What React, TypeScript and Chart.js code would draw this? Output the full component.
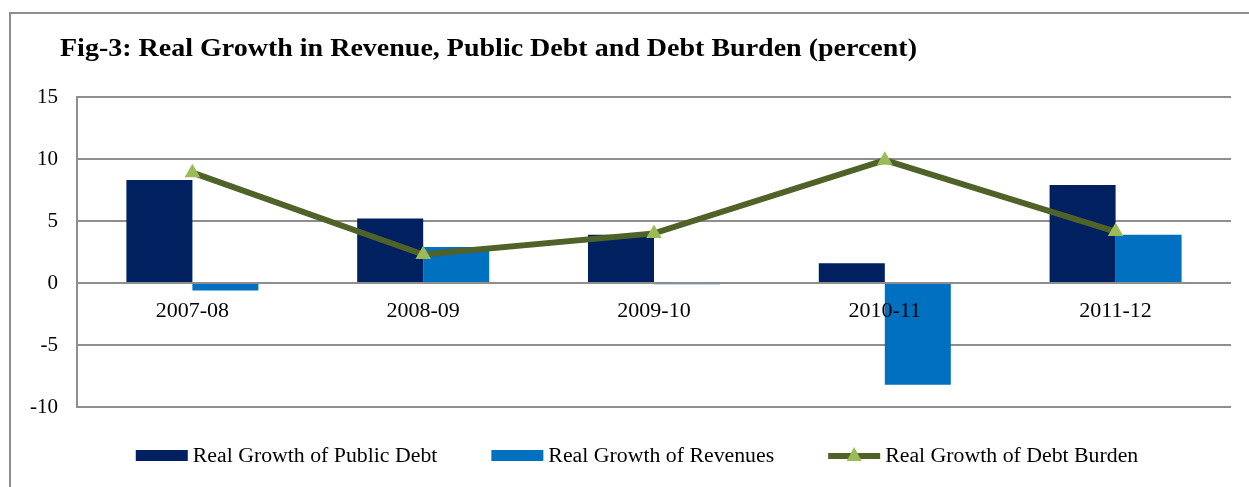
import React, { useEffect, useRef } from "react";
import { Chart, registerables } from "chart.js";

Chart.register(...registerables);

const TITLE = "Fig-3: Real Growth in Revenue, Public Debt and Debt Burden (percent)";
const categories = ["2007-08", "2008-09", "2009-10", "2010-11", "2011-12"];
const publicDebt = [8.3, 5.2, 3.9, 1.6, 7.9];
const revenues = [-0.6, 2.9, -0.1, -8.2, 3.9];
const debtBurden = [8.9, 2.3, 4.0, 9.9, 4.15];
const seriesLabels = [
  "Real Growth of Public Debt",
  "Real Growth of Revenues",
  "Real Growth of Debt Burden",
];

const NAVY = "#002060";
const BLUE = "#0070c0";
const OLIVE = "#4f6228";
const GREEN = "#9bbb59";
const GRID = "#8e8e8e";
const SERIF = "'Liberation Serif', serif";

function stretchedText(ctx: any, text: string, x: number, y: number, sx: number) {
  ctx.save();
  ctx.translate(x, y);
  ctx.scale(sx, 1);
  ctx.fillText(text, 0, 0);
  ctx.restore();
}

const framePlugin = {
  id: "frameTitle",
  beforeDraw(chart: any) {
    const ctx = chart.ctx;
    ctx.save();
    ctx.strokeStyle = GRID;
    ctx.lineWidth = 2;
    ctx.beginPath();
    ctx.moveTo(10, 487);
    ctx.lineTo(10, 13);
    ctx.lineTo(1249, 13);
    ctx.stroke();
    ctx.fillStyle = "#000";
    ctx.font = `bold 25px ${SERIF}`;
    ctx.textBaseline = "alphabetic";
    ctx.textAlign = "left";
    const w = ctx.measureText(TITLE).width;
    stretchedText(ctx, TITLE, 60, 56, 857 / w);
    ctx.restore();
  },
  afterDraw(chart: any) {
    const ctx = chart.ctx;
    ctx.save();
    ctx.font = `20px ${SERIF}`;
    const sx = 1.09;
    const boxW = 52;
    const gapBoxText = 5;
    const gapItems = 54;
    const widths = seriesLabels.map((t) => ctx.measureText(t).width * sx);
    const total =
      widths.reduce((a, b) => a + b, 0) +
      seriesLabels.length * (boxW + gapBoxText) +
      gapItems * (seriesLabels.length - 1);
    let x = 637 - total / 2;
    const cy = 456;
    seriesLabels.forEach((label, i) => {
      if (i < 2) {
        ctx.fillStyle = i === 0 ? NAVY : BLUE;
        ctx.fillRect(x, cy - 6, boxW, 11);
      } else {
        ctx.strokeStyle = OLIVE;
        ctx.lineWidth = 6;
        ctx.beginPath();
        ctx.moveTo(x, cy);
        ctx.lineTo(x + boxW, cy);
        ctx.stroke();
        ctx.fillStyle = GREEN;
        const cx = x + boxW / 2;
        ctx.beginPath();
        ctx.moveTo(cx, cy - 9);
        ctx.lineTo(cx + 7.5, cy + 5);
        ctx.lineTo(cx - 7.5, cy + 5);
        ctx.closePath();
        ctx.fill();
      }
      x += boxW + gapBoxText;
      ctx.fillStyle = "#000";
      ctx.textBaseline = "middle";
      ctx.textAlign = "left";
      stretchedText(ctx, label, x, cy + 1, sx);
      x += widths[i] + gapItems;
    });
    ctx.restore();
  },
};

export default function App() {
  const ref = useRef<HTMLCanvasElement>(null);
  useEffect(() => {
    if (!ref.current) return;
    const chart = new Chart(ref.current, {
      type: "bar",
      data: {
        labels: categories,
        datasets: [
          {
            type: "line",
            label: seriesLabels[2],
            data: debtBurden,
            borderColor: OLIVE,
            borderWidth: 6,
            pointStyle: "triangle",
            pointRadius: 9,
            pointBackgroundColor: GREEN,
            pointBorderColor: GREEN,
            pointBorderWidth: 0,
            tension: 0,
            order: 0,
          } as any,
          {
            type: "bar",
            label: seriesLabels[0],
            data: publicDebt,
            backgroundColor: NAVY,
            categoryPercentage: 0.572,
            barPercentage: 1,
            order: 1,
          },
          {
            type: "bar",
            label: seriesLabels[1],
            data: revenues,
            backgroundColor: BLUE,
            categoryPercentage: 0.572,
            barPercentage: 1,
            order: 1,
          },
        ],
      },
      options: {
        responsive: false,
        animation: false,
        layout: { padding: { top: 97, bottom: 80, left: 0, right: 18 } },
        plugins: { legend: { display: false }, tooltip: { enabled: false } },
        scales: {
          x: {
            position: { y: 0 } as any,
            grid: { display: false, drawTicks: false },
            border: { display: false },
            ticks: { z: 1, color: "#000", font: { family: SERIF, size: 22 }, padding: 15, maxRotation: 0 },
          },
          y: {
            min: -10,
            max: 15,
            afterFit: (s: any) => {
              s.width = 77;
            },
            ticks: { stepSize: 5, color: "#000", font: { family: SERIF, size: 21 }, padding: 19 },
            grid: { color: GRID, lineWidth: 2, drawTicks: false },
            border: { display: true, color: GRID, width: 2 },
          },
        },
      },
      plugins: [framePlugin],
    });
    return () => chart.destroy();
  }, []);
  return (
    <div style={{ position: "absolute", left: 0, top: 0, width: 1249, height: 487, background: "#fff" }}>
      <canvas ref={ref} width={1249} height={487} style={{ width: 1249, height: 487, display: "block" }} />
    </div>
  );
}
